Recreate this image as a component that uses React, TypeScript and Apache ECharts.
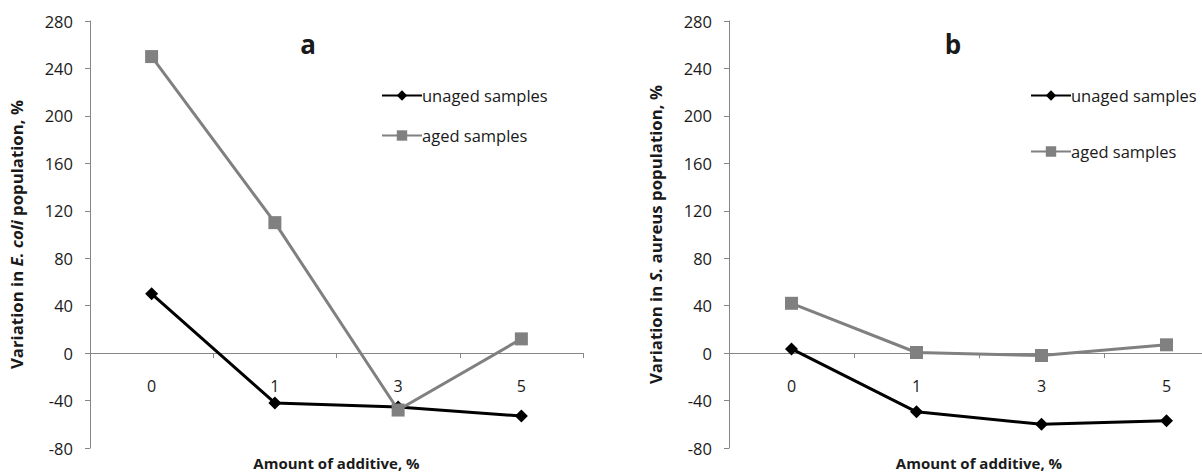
import React, { useEffect, useRef } from "react";
import * as echarts from "echarts";

const categories = ["0", "1", "3", "5"];
const ecoliUnaged = [50, -42, -45.5, -53];
const ecoliAged = [250, 110, -48, 12];
const saureusUnaged = [3.5, -49.5, -60, -57];
const saureusAged = [42, 0.5, -2, 7];
const yTicks = { min: -80, max: 280, interval: 40 };

const FONT = "Open Sans";
const TXT = "#1a1a1a";
const AX = "#868686";

export default function App() {
  const ref = useRef<HTMLDivElement>(null);
  useEffect(() => {
    if (!ref.current) return;
    const chart = echarts.init(ref.current, undefined, { renderer: "svg" });
    const xAxisBase = (gridIndex: number) => ({
      type: "category" as const,
      gridIndex,
      data: categories,
      boundaryGap: true,
      axisLine: { onZero: true, lineStyle: { color: AX, width: 1 } },
      axisTick: { show: true, length: 5, lineStyle: { color: AX } },
      axisLabel: { margin: -70, fontSize: 16, color: TXT, fontFamily: FONT },
      name: "Amount of additive, %",
      nameLocation: "middle" as const,
      nameGap: 7,
      nameTextStyle: { fontSize: 15, fontWeight: "bold", color: TXT, fontFamily: FONT },
    });
    const yAxisBase = (gridIndex: number, rich: string[]) => ({
      type: "value" as const,
      gridIndex,
      min: yTicks.min,
      max: yTicks.max,
      interval: yTicks.interval,
      axisLine: { show: true, lineStyle: { color: AX } },
      axisTick: { show: true, length: 5, lineStyle: { color: AX } },
      splitLine: { show: false },
      axisLabel: { margin: 17, fontSize: 16.5, color: TXT, fontFamily: FONT },
      name: `{n|${rich[0]}}{i|${rich[1]}}{n|${rich[2]}}`,
      nameLocation: "middle" as const,
      nameGap: 65,
      nameRotate: 90,
      nameTextStyle: {
        rich: {
          n: { fontSize: 16.8, fontWeight: "bold", color: TXT, fontFamily: FONT },
          i: { fontSize: 16.8, fontWeight: "bold", fontStyle: "italic", color: TXT, fontFamily: FONT },
        },
      },
    });
    const unagedStyle = {
      type: "line" as const,
      name: "unaged samples",
      symbol: "diamond",
      symbolSize: 13,
      lineStyle: { color: "#000000", width: 3 },
      itemStyle: { color: "#000000" },
    };
    const agedStyle = {
      type: "line" as const,
      name: "aged samples",
      symbol: "rect",
      symbolSize: 13,
      lineStyle: { color: "#808080", width: 3 },
      itemStyle: { color: "#808080" },
    };
    const legendBase = {
      orient: "vertical" as const,
      itemWidth: 40,
      itemHeight: 13,
      textStyle: { fontSize: 16.5, color: TXT, fontFamily: FONT, padding: [0, 0, 0, -5] },
      data: ["unaged samples", "aged samples"],
      selectedMode: false,
    };
    chart.setOption({
      animation: false,
      backgroundColor: "#ffffff",
      title: [
        { text: "a", left: 303, top: 26, textAlign: "center", textStyle: { fontSize: 26, fontWeight: "bold", color: TXT, fontFamily: FONT } },
        { text: "b", left: 948, top: 26, textAlign: "center", textStyle: { fontSize: 26, fontWeight: "bold", color: TXT, fontFamily: FONT } },
      ],
      legend: [
        { ...legendBase, left: 376, top: 82, itemGap: 23 },
        { ...legendBase, left: 1025, top: 82, itemGap: 39 },
      ],
      grid: [
        { left: 90, top: 21, width: 493, height: 427, outerBoundsMode: "none" },
        { left: 729, top: 21, width: 500, height: 427, outerBoundsMode: "none" },
      ],
      xAxis: [xAxisBase(0), xAxisBase(1)],
      yAxis: [
        yAxisBase(0, ["Variation in ", "E. coli", " population, %"]),
        yAxisBase(1, ["Variation in ", "S.", " aureus population, %"]),
      ],
      series: [
        { ...unagedStyle, xAxisIndex: 0, yAxisIndex: 0, data: ecoliUnaged },
        { ...agedStyle, xAxisIndex: 0, yAxisIndex: 0, data: ecoliAged },
        { ...unagedStyle, xAxisIndex: 1, yAxisIndex: 1, data: saureusUnaged },
        { ...agedStyle, xAxisIndex: 1, yAxisIndex: 1, data: saureusAged },
      ],
    });
    return () => chart.dispose();
  }, []);
  return (
    <div
      ref={ref}
      style={{ position: "fixed", left: 0, top: 0, width: 1202, height: 473, overflow: "hidden", background: "#fff" }}
    />
  );
}
